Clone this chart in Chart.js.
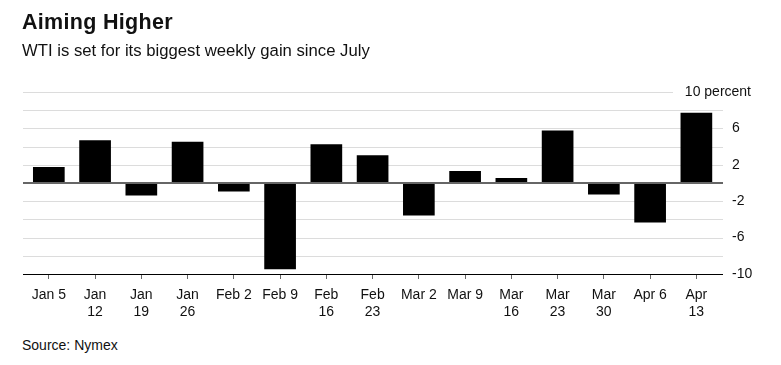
<!DOCTYPE html>
<html>
<head>
<meta charset="utf-8">
<script src="https://cdn.jsdelivr.net/npm/chart.js@4"></script>
<style>
  html, body { margin: 0; padding: 0; background: #fff; }
  body { width: 781px; height: 365px; position: relative; overflow: hidden; font-family: 'Liberation Sans', Arial, sans-serif; color: #111; }
  #title { position: absolute; left: 22px; top: 10px; font-size: 21.5px; font-weight: bold; letter-spacing: 0.3px; }
  #subtitle { position: absolute; left: 22px; top: 41px; font-size: 16.7px; }
  #source { position: absolute; left: 22px; top: 337px; font-size: 14px; }
  #wrap { position: absolute; left: 0; top: 0; width: 781px; height: 330px; }
</style>
</head>
<body>
<div id="wrap"><canvas id="chart"></canvas></div>
<div id="title">Aiming Higher</div>
<div id="subtitle">WTI is set for its biggest weekly gain since July</div>
<div id="source">Source: Nymex</div>
<script>
// Weekly WTI change, percent
const weeks = [
    'Jan 5', ['Jan', '12'], ['Jan', '19'], ['Jan', '26'], 'Feb 2', 'Feb 9',
    ['Feb', '16'], ['Feb', '23'], 'Mar 2', 'Mar 9', ['Mar', '16'], ['Mar', '23'],
    ['Mar', '30'], 'Apr 6', ['Apr', '13']
];
const changes = [1.75, 4.7, -1.38, 4.52, -0.94, -9.47, 4.26, 3.06, -3.57, 1.31, 0.55, 5.76, -1.27, -4.33, 7.73];
const yLabels = [10, 6, 2, -2, -6, -10];
const gridValues = [10, 8, 6, 4, 2, -2, -4, -6, -8];

const FONT = "'Liberation Sans', Arial, sans-serif";
const GRID_LEFT = 23;
const GRID_RIGHT = 723;

// Horizontal gridlines run a little wider than the bar area
const gridLines = {
    id: 'gridLines',
    beforeDatasetsDraw(chart) {
        const { ctx, scales } = chart;
        ctx.save();
        ctx.lineWidth = 1;
        ctx.strokeStyle = '#dcdcdc';
        gridValues.forEach(v => {
            const y = Math.round(scales.y.getPixelForValue(v)) + 0.5;
            ctx.beginPath();
            ctx.moveTo(GRID_LEFT, y);
            ctx.lineTo(v === 10 ? 673 : GRID_RIGHT, y);
            ctx.stroke();
        });
        ctx.restore();
    },
    afterDatasetsDraw(chart) {
        const { ctx, scales } = chart;
        ctx.save();
        // zero line
        const y0 = Math.round(scales.y.getPixelForValue(0));
        ctx.strokeStyle = '#666';
        ctx.lineWidth = 2;
        ctx.beginPath();
        ctx.moveTo(GRID_LEFT, y0);
        ctx.lineTo(GRID_RIGHT, y0);
        ctx.stroke();
        // bottom axis line
        const yb = Math.round(scales.y.getPixelForValue(-10)) + 0.5;
        ctx.strokeStyle = '#000';
        ctx.lineWidth = 1;
        ctx.beginPath();
        ctx.moveTo(GRID_LEFT, yb);
        ctx.lineTo(GRID_RIGHT, yb);
        ctx.stroke();
        ctx.restore();
    },
    afterDraw(chart) {
        const { ctx, scales } = chart;
        const y = scales.y.getPixelForValue(10);
        ctx.save();
        ctx.font = '14px ' + FONT;
        ctx.fillStyle = '#111';
        ctx.textAlign = 'right';
        ctx.textBaseline = 'middle';
        ctx.fillText('10 percent', 751, y);
        ctx.restore();
    }
};

new Chart(document.getElementById('chart'), {
    type: 'bar',
    data: {
        labels: weeks,
        datasets: [{
            data: changes,
            backgroundColor: '#000',
            borderWidth: 0,
            barPercentage: 0.685,
            categoryPercentage: 1
        }]
    },
    options: {
        responsive: true,
        maintainAspectRatio: false,
        animation: false,
        layout: { padding: { left: 25.7, top: 92, right: 0, bottom: 0 } },
        plugins: {
            legend: { display: false },
            tooltip: { enabled: false }
        },
        scales: {
            x: {
                offset: true,
                grid: {
                    offset: false,
                    drawOnChartArea: false,
                    drawTicks: true,
                    tickLength: 5,
                    tickColor: '#666'
                },
                border: { display: false },
                ticks: {
                    color: '#111',
                    font: { family: FONT, size: 14 },
                    padding: 8,
                    maxRotation: 0,
                    autoSkip: false
                },
                afterFit: (s) => { s.height = 330 - 274; }
            },
            y: {
                position: 'right',
                min: -10,
                max: 10,
                grid: { display: false, drawTicks: false },
                border: { display: false },
                ticks: {
                    stepSize: 2,
                    autoSkip: false,
                    padding: 12.5,
                    color: '#111',
                    font: { family: FONT, size: 14 },
                    callback: (v) => (yLabels.includes(v) && v !== 10) ? String(v) : ''
                },
                afterFit: (s) => { s.width = 781 - 719.5; }
            }
        }
    },
    plugins: [gridLines]
});
</script>
</body>
</html>
